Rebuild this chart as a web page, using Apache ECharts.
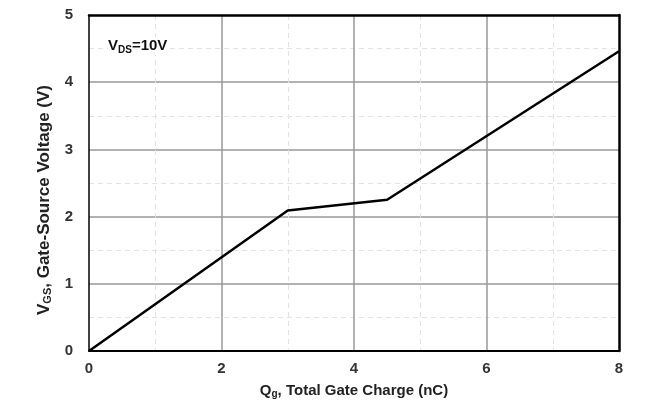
<!DOCTYPE html>
<html>
<head>
<meta charset="utf-8">
<script src="https://cdn.jsdelivr.net/npm/echarts@6/dist/echarts.min.js"></script>
<style>
html,body{margin:0;padding:0;background:#fff;}
#chart{width:649px;height:414px;}
</style>
</head>
<body>
<div id="chart"></div>
<script>
// Gate charge characteristic
const chargeQg = [0, 3.0, 4.5, 8.0];          // nC
const voltageVgs = [0, 2.09, 2.25, 4.46];     // V
const xTicks = [0, 2, 4, 6, 8];
const yTicks = [0, 1, 2, 3, 4, 5];
const annotation = 'V{s|DS}=10V';

const chart = echarts.init(document.getElementById('chart'));
const font = '"Liberation Sans", Arial, sans-serif';
chart.setOption({
  animation: false,
  backgroundColor: '#fff',
  grid: {left: 89, right: 30, top: 15, bottom: 63, show: false},
  graphic: [{
    type: 'text', left: 108, top: 37, z: 100,
    style: {
      text: annotation,
      font: '600 15px ' + font,
      fill: '#111',
      backgroundColor: '#fff',
      rich: {s: {fontSize: 10, fontWeight: 600, fontFamily: font, verticalAlign: 'bottom', padding: [8, 0, 0, 0]}}
    }
  }],
  xAxis: [{
    type: 'value', min: xTicks[0], max: xTicks[xTicks.length - 1], interval: 2,
    name: 'Q{s|g}, Total Gate Charge (nC)', nameLocation: 'middle', nameGap: 32,
    nameTextStyle: {fontFamily: font, fontWeight: 'bold', fontSize: 15, color: '#222', rich: {s: {fontSize: 10, fontWeight: 'bold', verticalAlign: 'bottom', padding: [6, 0, 0, 0]}}},
    axisLine: {show: true, onZero: false, lineStyle: {color: '#000', width: 2}},
    axisTick: {show: false},
    axisLabel: {fontFamily: font, fontWeight: 'bold', fontSize: 15, color: '#333', margin: 10},
    splitLine: {show: true, showMinLine: false, showMaxLine: false, lineStyle: {color: '#999', width: 1.5}},
    minorTick: {show: false, splitNumber: 2},
    minorSplitLine: {show: true, lineStyle: {color: '#e2e2e2', width: 1, type: [5, 4]}}
  }, {
    type: 'value', position: 'top', min: xTicks[0], max: xTicks[xTicks.length - 1], interval: 2,
    axisLine: {show: true, onZero: false, lineStyle: {color: '#000', width: 2.5}},
    axisTick: {show: false}, axisLabel: {show: false}, splitLine: {show: false}
  }],
  yAxis: [{
    type: 'value', min: yTicks[0], max: yTicks[yTicks.length - 1], interval: 1,
    name: 'V{s|GS}, Gate-Source Voltage (V)', nameLocation: 'middle', nameGap: 36,
    nameTextStyle: {fontFamily: font, fontWeight: 'bold', fontSize: 17, color: '#222', rich: {s: {fontSize: 11, fontWeight: 'bold', verticalAlign: 'bottom', padding: [6, 0, 0, 0]}}, padding: [0, 0, 0, -34]},
    axisLine: {show: true, onZero: false, lineStyle: {color: '#000', width: 1.5}},
    axisTick: {show: false},
    axisLabel: {fontFamily: font, fontWeight: 'bold', fontSize: 15, color: '#333', margin: 16},
    splitLine: {show: true, showMinLine: false, showMaxLine: false, lineStyle: {color: '#999', width: 1.5}},
    minorTick: {show: false, splitNumber: 2},
    minorSplitLine: {show: true, lineStyle: {color: '#e2e2e2', width: 1, type: [5, 4]}}
  }, {
    type: 'value', position: 'right', min: yTicks[0], max: yTicks[yTicks.length - 1], interval: 1,
    axisLine: {show: true, onZero: false, lineStyle: {color: '#000', width: 2.5}},
    axisTick: {show: false}, axisLabel: {show: false}, splitLine: {show: false}
  }],
  series: [{
    type: 'line',
    xAxisIndex: 0, yAxisIndex: 0,
    data: chargeQg.map((q, i) => [q, voltageVgs[i]]),
    showSymbol: false,
    lineStyle: {color: '#000', width: 2.5},
    z: 5
  }]
});
</script>
</body>
</html>
